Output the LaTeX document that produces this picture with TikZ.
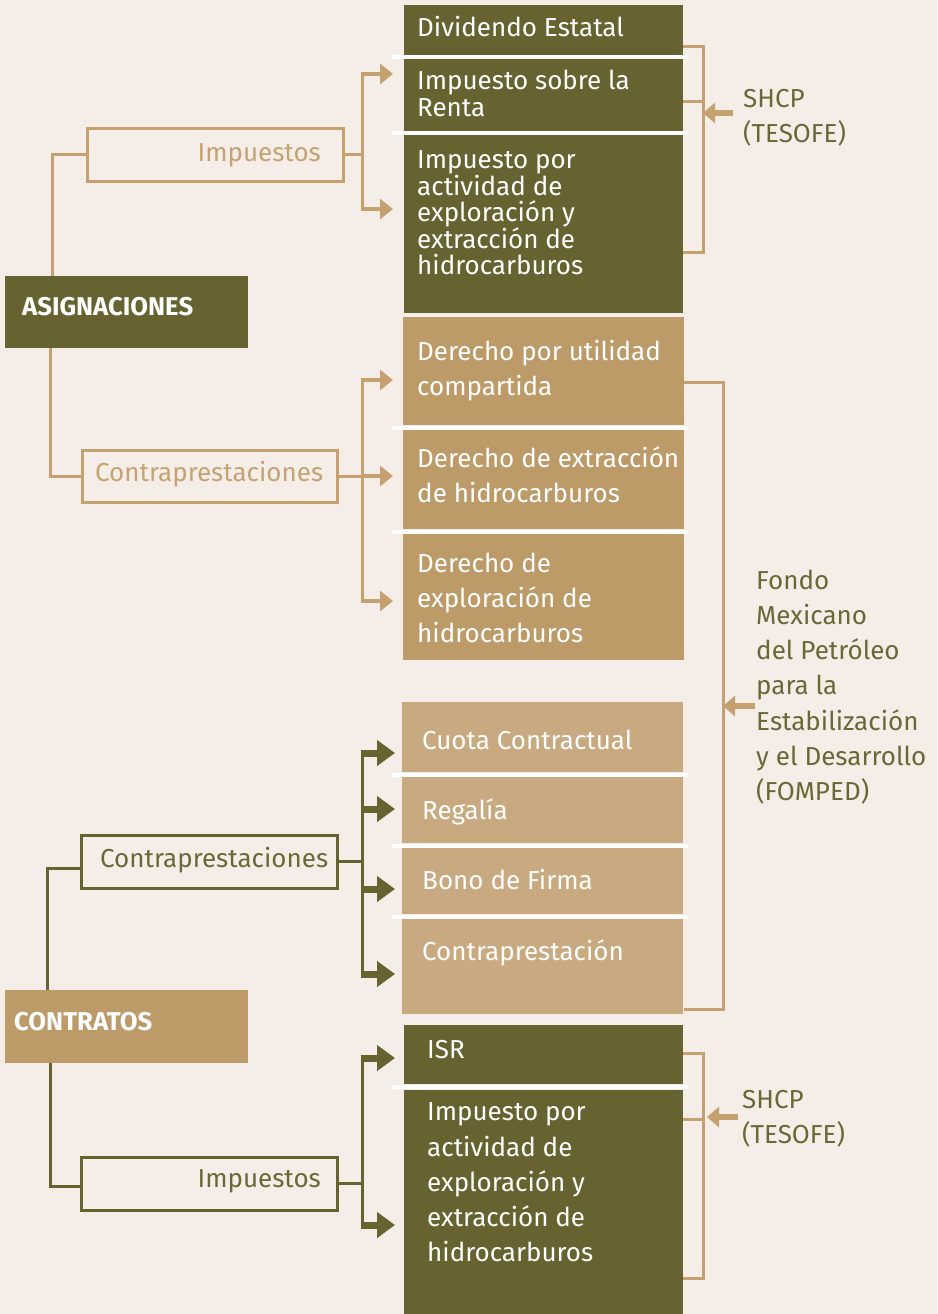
\documentclass[tikz,border=0pt]{standalone}
\usepackage{fontspec}
\setmainfont{Fira Sans}
\usetikzlibrary{arrows.meta}
\definecolor{bg}{HTML}{F5EEE8}
\definecolor{olive}{HTML}{666330}
\definecolor{oliveT}{HTML}{6A6836}
\definecolor{tanA}{HTML}{BC9B69}
\definecolor{tanB}{HTML}{C9AA80}
\definecolor{tanL}{HTML}{C4A16E}
\definecolor{tanT}{HTML}{C4A372}
\begin{document}
\begin{tikzpicture}[x=1pt,y=-1pt,
  box/.style={fill=#1, inner sep=0pt, outer sep=0pt, anchor=north west},
  obox/.style={draw=#1, line width=3pt, inner sep=0pt, outer sep=0pt, minimum width=256pt, minimum height=53pt},
  txt/.style={anchor=west, align=left, inner sep=0pt, text=white, font=\fontsize{26}{35.2}\selectfont},
  tight/.style={font=\fontsize{26}{26.5}\selectfont},
  head/.style={anchor=west, inner sep=0pt, text=white, font=\fontsize{25.7}{30}\selectfont\bfseries},
  sep/.style={fill=white},
  tline/.style={draw=tanL, line width=3pt},
  oline/.style={draw=olive, line width=3pt},
  tarr/.style={draw=tanL, line width=4pt, -{Triangle[length=13pt,width=20pt]}},
  oarr/.style={draw=olive, line width=7pt, -{Triangle[length=18pt,width=25pt]}},
  larr/.style={draw=tanL, line width=6pt, -{Triangle[length=12pt,width=20pt]}}]
\useasboundingbox (0,0) rectangle (937,1314);
\fill[bg] (0,0) rectangle (937,1314);

% ---------- right column boxes ----------
\node[box=olive, minimum width=279pt, minimum height=50pt] (b1) at (404,5) {};
\node[box=olive, minimum width=279pt, minimum height=72pt] (b2) at (404,59) {};
\node[box=olive, minimum width=279pt, minimum height=178pt] (b3) at (404,135) {};
\node[box=tanA, minimum width=281pt, minimum height=108pt] (d1) at (403,317) {};
\node[box=tanA, minimum width=281pt, minimum height=99pt] (d2) at (403,430) {};
\node[box=tanA, minimum width=281pt, minimum height=126pt] (d3) at (403,534) {};
\node[box=tanB, minimum width=281pt, minimum height=70pt] (c1) at (402,702) {};
\node[box=tanB, minimum width=281pt, minimum height=66pt] (c2) at (402,777) {};
\node[box=tanB, minimum width=281pt, minimum height=66pt] (c3) at (402,848) {};
\node[box=tanB, minimum width=281pt, minimum height=95pt] (c4) at (402,919) {};
\node[box=olive, minimum width=279pt, minimum height=59pt] (e1) at (404,1025) {};
\node[box=olive, minimum width=279pt, minimum height=224pt] (e2) at (404,1090) {};

% white separators
\fill[sep] (392,55) rectangle (688,59);
\fill[sep] (392,131) rectangle (688,135);
\fill[sep] (392,426) rectangle (688,430);
\fill[sep] (392,530) rectangle (688,534);
\fill[sep] (392,773) rectangle (688,777);
\fill[sep] (392,844) rectangle (688,848);
\fill[sep] (392,915) rectangle (688,919);
\fill[sep] (392,1085) rectangle (688,1089);

% texts in the column
\node[txt] (tb1) at (417,26.5) {Dividendo Estatal};
\node[txt, tight] (tb2) at (417,93.5) {Impuesto sobre la\\Renta};
\node[txt, tight] (tb3) at (417,213) {Impuesto por\\actividad de\\exploración y\\extracción de\\hidrocarburos};
\node[txt] (td1) at (417,371) {Derecho por utilidad\\compartida};
\node[txt] (td2) at (417,474.5) {Derecho de extracción\\de hidrocarburos};
\node[txt] (td3) at (417,598) {Derecho de\\exploración de\\hidrocarburos};
\node[txt] (tc1) at (422,740) {Cuota Contractual};
\node[txt] (tc2) at (422,812) {Regalía};
\node[txt] (tc3) at (422,880) {Bono de Firma};
\node[txt] (tc4) at (422,953) {Contraprestación};
\node[txt] (te1) at (427,1050) {ISR};
\node[txt] (te2) at (427,1182.5) {Impuesto por\\actividad de\\exploración y\\extracción de\\hidrocarburos};

% ---------- left side ----------
\node[box=olive, minimum width=243pt, minimum height=72pt] (asig) at (5,276) {};
\node[head] (tasig) at (22,307) {ASIGNACIONES};
\node[box=tanA, minimum width=243pt, minimum height=73pt] (contr) at (5,990) {};
\node[head] (tcontr) at (14,1022) {CONTRATOS};

\node[obox=tanL] (impA) at (215,154.5) {};
\node[txt, text=tanT, anchor=east] (timpA) at (321,155.5) {Impuestos};
\node[obox=tanL, minimum width=255pt, minimum height=52pt] (conA) at (209.5,476) {};
\node[txt, text=tanT] (tconA) at (95,474) {Contraprestaciones};
\node[obox=olive] (conB) at (209.5,862) {};
\node[txt, text=oliveT] (tconB) at (100,860) {Contraprestaciones};
\node[obox=olive] (impB) at (209.5,1183.5) {};
\node[txt, text=oliveT, anchor=east] (timpB) at (321,1181.5) {Impuestos};

% connectors from the heads
\draw[tline] ([xshift=47pt]asig.north west) |- (impA.west);
\draw[tline] ([xshift=45pt]asig.south west) |- (conA.west);
\draw[oline] ([xshift=42.5pt]contr.north west) |- ([yshift=-6pt]conB.west);
\draw[oline] ([xshift=45pt]contr.south west) |- ([yshift=-2.5pt]impB.west);

% splits, top Impuestos
\coordinate (aA1) at (393,74);
\coordinate (aA2) at (393,209);
\draw[tline] (impA.east) -- (impA.east -| 362,0);
\draw[tline] (aA1 -| 362,0) -- (aA2 -| 362,0);
\draw[tarr] ([xshift=-1.5pt]aA1 -| 362,0) -- (aA1);
\draw[tarr] ([xshift=-1.5pt]aA2 -| 362,0) -- (aA2);

% splits, top Contraprestaciones
\coordinate (aB1) at (393,380);
\coordinate (aB2) at (393,476);
\coordinate (aB3) at (393,601);
\draw[tline] (conA.east) -- (conA.east -| 362,0);
\draw[tline] (aB1 -| 362,0) -- (aB3 -| 362,0);
\draw[tarr] ([xshift=-1.5pt]aB1 -| 362,0) -- (aB1);
\draw[tarr] ([xshift=-1.5pt]aB2 -| 362,0) -- (aB2);
\draw[tarr] ([xshift=-1.5pt]aB3 -| 362,0) -- (aB3);

% splits, bottom Contraprestaciones
\coordinate (aC1) at (395,753);
\coordinate (aC2) at (395,809);
\coordinate (aC3) at (395,889);
\coordinate (aC4) at (395,974);
\draw[oline] ([yshift=1pt]conB.east) -- ([yshift=1pt]conB.east -| 362,0);
\draw[oline] (aC1 -| 362,0) -- (aC4 -| 362,0);
\draw[oarr] ([xshift=-1.5pt]aC1 -| 362,0) -- (aC1);
\draw[oarr] ([xshift=-1.5pt]aC2 -| 362,0) -- (aC2);
\draw[oarr] ([xshift=-1.5pt]aC3 -| 362,0) -- (aC3);
\draw[oarr] ([xshift=-1.5pt]aC4 -| 362,0) -- (aC4);

% splits, bottom Impuestos
\coordinate (aD1) at (395,1058);
\coordinate (aD2) at (395,1225);
\draw[oline] (impB.east) -- (impB.east -| 362,0);
\draw[oline] (aD1 -| 362,0) -- (aD2 -| 362,0);
\draw[oarr] ([xshift=-1.5pt]aD1 -| 362,0) -- (aD1);
\draw[oarr] ([xshift=-1.5pt]aD2 -| 362,0) -- (aD2);

% ---------- right brackets ----------
\node[txt, text=oliveT] (shcpA) at (743,118) {SHCP\\(TESOFE)};
\coordinate (kA1) at (683,47);
\coordinate (kA2) at (683,101);
\coordinate (kA3) at (683,252);
\draw[tline] (kA1) -- (703,47) -- (703,252) -- (kA3);
\draw[tline] (kA2) -- (703,101);
\draw[larr] ([xshift=-10pt]shcpA.west |- 0,113) -- (703,113);

\node[txt, text=oliveT] (fomp) at (756,687) {Fondo\\Mexicano\\del Petróleo\\para la\\Estabilización\\y el Desarrollo\\(FOMPED)};
\coordinate (kF1) at (684,382);
\coordinate (kF2) at (684,1009);
\draw[tline] (kF1) -- (723,382) -- (723,1009) -- (kF2);
\draw[larr] ([xshift=-1pt]fomp.west |- 0,706) -- (723,706);

\node[txt, text=oliveT] (shcpB) at (742,1119) {SHCP\\(TESOFE)};
\coordinate (kB1) at (683,1053);
\coordinate (kB2) at (683,1119);
\coordinate (kB3) at (683,1278);
\draw[tline] (kB1) -- (703,1053) -- (703,1278) -- (kB3);
\draw[tline] (kB2) -- (703,1119);
\draw[larr] ([xshift=-4pt]shcpB.west |- 0,1117) -- (707,1117);
\end{tikzpicture}
\end{document}
